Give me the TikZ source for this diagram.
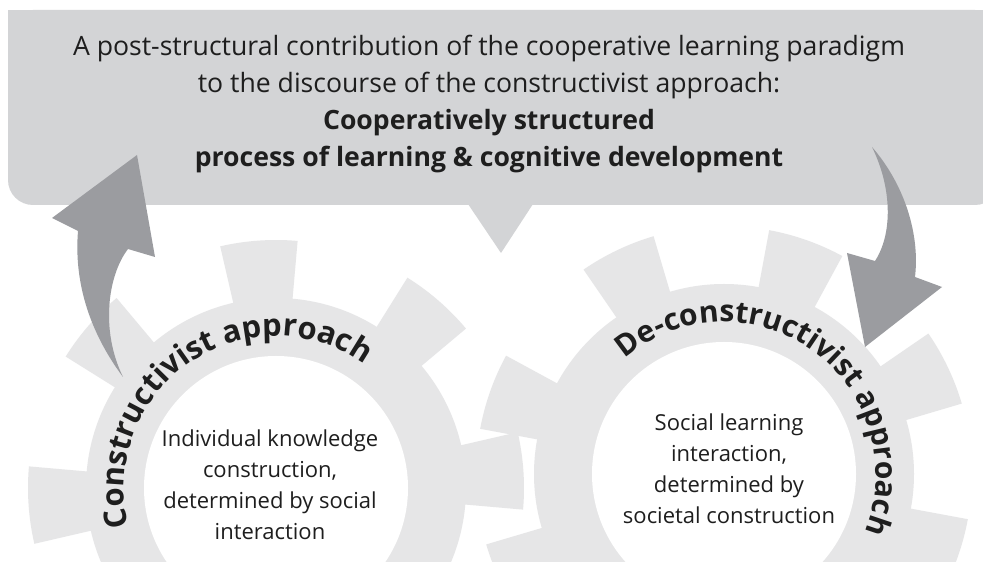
\documentclass[tikz,border=0pt]{standalone}
\usepackage{fontspec}
\setmainfont{Open Sans}
\usetikzlibrary{decorations.text}
\definecolor{callgray}{HTML}{D3D4D6}
\definecolor{geargray}{HTML}{E6E6E7}
\definecolor{arrowgray}{HTML}{9B9CA0}
\definecolor{txt}{HTML}{1E1E1E}
\tikzset{
  callout/.style={fill=callgray},
  gearfill/.style={fill=geargray},
  arrowshape/.style={fill=arrowgray},
  toptext/.style={align=center, text=txt, font=\fontsize{26.6}{37}\selectfont, inner sep=0pt},
  geartext/.style={align=center, text=txt, font=\fontsize{22}{31}\selectfont, inner sep=0pt},
}
\begin{document}
\begin{tikzpicture}[x=1pt,y=1pt]
\useasboundingbox (0,0) rectangle (983,562);
\fill[white] (0,0) rectangle (983,562);
% callout
\fill[callout, rounded corners=25] (8,357) rectangle (1000,552);
\fill[callout] (8,420) rectangle (1000,552);
\fill[callout] (468,358) -- (533,358) -- (501,309) -- cycle;
\node[toptext] (title) at (489,458) {A post-structural contribution of the cooperative learning paradigm\\
to the discourse of the constructivist approach:\\
\textbf{Cooperatively structured}\\
\textbf{process of learning \& cognitive development}};
% gears
\coordinate (lg) at (276,74);
\coordinate (rg) at (724,88);
\begin{scope}[shift={(lg)}]
  \fill[gearfill] (0,0) circle[radius=190];
  \foreach \a in {0,...,7} {
    \pgfmathsetmacro\t{4+45*\a}
    \fill[gearfill] (\t-9:180) arc[start angle=\t-9, end angle=\t+9, radius=180]
      -- (\t+9:248) arc[start angle=\t+9, end angle=\t-9, radius=248] -- cycle;
  }
\end{scope}
\begin{scope}[shift={(rg)}]
  \fill[gearfill] (0,0) circle[radius=190];
  \foreach \a in {0,...,7} {
    \pgfmathsetmacro\t{25.5+45*\a}
    \fill[gearfill] (\t-9:180) arc[start angle=\t-9, end angle=\t+9, radius=180]
      -- (\t+9:248) arc[start angle=\t+9, end angle=\t-9, radius=248] -- cycle;
  }
\end{scope}
\fill[white] (lg) circle[radius=132];
\fill[white] (rg) circle[radius=132];
% arrows
\fill[arrowshape] (123,185) .. controls (88,232) and (74,282) .. (78,331) -- (52,344) -- (137,407) -- (155,305) -- (128,313) .. controls (108,287) and (100,232) .. (123,185) -- cycle;
\fill[arrowshape] (872,415) .. controls (905,377) and (920,327) .. (915,285) -- (942,275) -- (865,215) -- (847,309) -- (875,301) .. controls (892,327) and (893,372) .. (872,415) -- cycle;
% curved texts
\begin{scope}[shift={(lg)}]
\path[decorate, decoration={text along path, text align=center, text color=txt,
  text={|\bfseries\fontsize{31}{36}\selectfont|Constructivist approach}}]
  (214.5:152) arc[start angle=214.5, end angle=34.5, radius=152];
\end{scope}
\begin{scope}[shift={(rg)}]
\path[decorate, decoration={text along path, text align=center, text color=txt,
  text={|\bfseries\fontsize{30}{36}\selectfont|De-constructivist approach}}]
  (144.2:152) arc[start angle=144.2, end angle=-35.8, radius=152];
\end{scope}
% inner texts
\node[geartext] (ltext) at (270,77) {Individual knowledge\\construction,\\determined by social\\interaction};
\node[geartext] (rtext) at (729,93.5) {Social learning\\interaction,\\determined by\\societal construction};
\end{tikzpicture}
\end{document}
